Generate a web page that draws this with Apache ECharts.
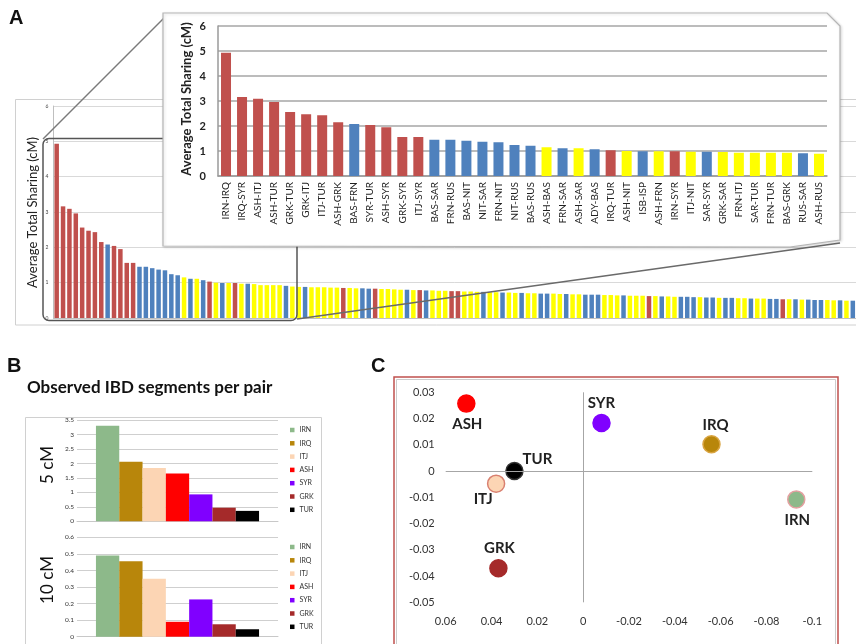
<!DOCTYPE html>
<html><head><meta charset="utf-8">
<script src="https://cdn.jsdelivr.net/npm/echarts@6/dist/echarts.min.js"></script>
<style>html,body{margin:0;padding:0;background:#fff}#c{width:856px;height:644px}</style>
</head><body><div id="c"></div>
<script>
// ---------- Panel A data ----------
const insetPairs = ['IRN-IRQ','IRQ-SYR','ASH-ITJ','ASH-TUR','GRK-TUR','GRK-ITJ','ITJ-TUR','ASH-GRK','BAS-FRN','SYR-TUR',
  'ASH-SYR','GRK-SYR','ITJ-SYR','BAS-SAR','FRN-RUS','BAS-NIT','NIT-SAR','FRN-NIT','NIT-RUS','BAS-RUS',
  'ASH-BAS','FRN-SAR','ASH-SAR','ADY-BAS','IRQ-TUR','ASH-NIT','ISB-ISP','ASH-FRN','IRN-SYR','ITJ-NIT',
  'SAR-SYR','GRK-SAR','FRN-ITJ','SAR-TUR','FRN-TUR','BAS-GRK','RUS-SAR','ASH-RUS'];
const insetValues = [4.93,3.16,3.09,2.96,2.56,2.47,2.43,2.15,2.08,2.04,
  1.95,1.56,1.56,1.45,1.45,1.41,1.37,1.35,1.24,1.21,
  1.15,1.11,1.11,1.07,1.03,1.00,0.99,0.99,0.99,0.97,
  0.97,0.96,0.93,0.93,0.93,0.93,0.91,0.89];
const insetGroups = ['r','r','r','r','r','r','r','r','b','r',
  'r','r','r','b','b','b','b','b','b','b',
  'y','b','y','b','r','y','b','y','r','y',
  'b','y','y','y','y','y','b','y'];
// remaining pairs of the full ranking (names not legible in the figure)
const tailValues = [0.88,0.88,0.87,0.87,0.87,0.86,0.86,0.85,0.85,0.84,
  0.84,0.83,0.83,0.82,0.82,0.81,0.80,0.80,0.79,0.79,
  0.78,0.78,0.77,0.77,0.76,0.76,0.75,0.75,0.74,0.74,
  0.73,0.73,0.72,0.72,0.71,0.71,0.70,0.70,0.69,0.69,
  0.69,0.68,0.68,0.67,0.67,0.66,0.66,0.66,0.65,0.65,
  0.64,0.64,0.63,0.63,0.63,0.62,0.62,0.61,0.61,0.60,
  0.60,0.60,0.59,0.59,0.58,0.58,0.57,0.57,0.57,0.56,
  0.56,0.55,0.55,0.55,0.54,0.54,0.53,0.53,0.53,0.52,
  0.52,0.51,0.51,0.51,0.50,0.50,0.49,0.49];
const tailGroups = ['y','b','y','y','y','y','y','r','y','y',
  'b','b','r','y','y','y','y','b','y','r',
  'b','y','y','y','r','r','y','y','y','b',
  'y','y','b','y','y','b','y','y','b','b',
  'y','y','b','y','y','b','b','b','y','y',
  'y','b','y','y','y','r','y','b','y','y',
  'b','b','b','y','b','b','y','b','b','y',
  'y','b','y','y','b','b','r','y','b','y',
  'b','b','b','y','y','b','y','b'];
const sharingTicks = [0,1,2,3,4,5,6];

// ---------- Panel B data ----------
const populations = ['IRN','IRQ','ITJ','ASH','SYR','GRK','TUR'];
const segments5cM  = [3.30,2.06,1.84,1.65,0.93,0.47,0.36];
const segments10cM = [0.49,0.455,0.35,0.09,0.225,0.075,0.045];

// ---------- Panel C data ----------
const pcaNames = ['ASH','SYR','IRQ','TUR','ITJ','IRN','GRK'];
const pcaX = [0.051,-0.008,-0.056,0.030,0.038,-0.093,0.037];
const pcaY = [0.0257,0.0183,0.0102,0.0,-0.0048,-0.0108,-0.037];

// ---------- styling ----------
const FONT = 'Lato, "Open Sans", sans-serif';
const groupColor = {r:'#C0504D', b:'#4F81BD', y:'#FFFF00'};
const popColor = {IRN:'#8DB98A', IRQ:'#B8860B', ITJ:'#FCD5B4', ASH:'#FF0000', SYR:'#8000FF', GRK:'#A52A2A', TUR:'#000000'};
const popBorder = {IRN:'#E3A0A0', IRQ:'#D9A441', ITJ:'#D98070', ASH:'#FF0000', SYR:'#8000FF', GRK:'#A52A2A', TUR:'#333333'};
const pcaLabelOffset = {ASH:[1,21], SYR:[0,-20], IRQ:[4,-19], TUR:[23,-12], ITJ:[-13,16], IRN:[1,21], GRK:[1,-20]};

const mainValues = insetValues.concat(tailValues);
const mainGroups = insetGroups.concat(tailGroups);
const mainCats = mainValues.map((v,i)=>String(i+1));

const chart = echarts.init(document.getElementById('c'), null, {renderer:'canvas'});

const bSeries = [];
populations.forEach((p,i)=>{
  bSeries.push({type:'bar', name:p, xAxisIndex:2, yAxisIndex:2, data:[segments5cM[i]], barWidth:23.3, barGap:'0%',
    itemStyle:{color:popColor[p]}, silent:true});
});
populations.forEach((p,i)=>{
  bSeries.push({type:'bar', name:p, xAxisIndex:3, yAxisIndex:3, data:[segments10cM[i]], barWidth:23.3, barGap:'0%',
    itemStyle:{color:popColor[p]}, silent:true});
});

const cSeries = pcaNames.map((p,i)=>({
  type:'scatter', name:'pca-'+p, xAxisIndex:4, yAxisIndex:4,
  data:[[pcaX[i], pcaY[i]]], symbolSize:17, z:4,
  itemStyle:{color:popColor[p], borderColor:popBorder[p], borderWidth:1.5, opacity:1},
  label:{show:true, position:'inside', offset:pcaLabelOffset[p], formatter:p,
    fontFamily:FONT, fontWeight:'bold', fontSize:15, color:'#222'}
}));
cSeries[0].markLine = {silent:true, symbol:'none', label:{show:false},
  lineStyle:{color:'#a6a6a6', width:1, type:'solid'}, data:[{xAxis:0},{yAxis:0}]};

const legendBase = {orient:'vertical', left:290, itemWidth:4.5, itemHeight:4.5, itemGap:5.3, icon:'rect',
  padding:0, selectedMode:false, data:populations,
  textStyle:{fontSize:7, color:'#333', fontFamily:FONT, lineHeight:8}};

const option = {
  animation:false,
  backgroundColor:'#fff',
  textStyle:{fontFamily:FONT},
  legend:[Object.assign({}, legendBase, {top:426}), Object.assign({}, legendBase, {top:543})],
  grid:[
    {left:53.5, top:106, width:807.7, height:212},
    {left:218, top:26, width:609, height:150, z:5},
    {left:77, top:420, width:201, height:101.3},
    {left:77, top:537.3, width:201, height:99.4},
    {left:445.7, top:392.3, width:366.6, height:210}
  ],
  xAxis:[
    {gridIndex:0, type:'category', data:mainCats, axisLabel:{show:false}, axisTick:{show:false},
      axisLine:{lineStyle:{color:'#bfbfbf'}}},
    {gridIndex:1, type:'category', data:insetPairs, z:5, axisTick:{show:false},
      axisLine:{lineStyle:{color:'#9a9a9a', width:1.5}},
      axisLabel:{interval:0, rotate:90, fontSize:10, margin:6, color:'#222', fontFamily:FONT}},
    {gridIndex:2, type:'category', data:['5 cM'], axisLabel:{show:false}, axisTick:{show:false},
      axisLine:{lineStyle:{color:'#c8c8c8'}}},
    {gridIndex:3, type:'category', data:['10 cM'], axisLabel:{show:false}, axisTick:{show:false},
      axisLine:{lineStyle:{color:'#c8c8c8'}}},
    {gridIndex:4, type:'value', min:-0.1, max:0.06, interval:0.02, inverse:true,
      axisLine:{show:false}, axisTick:{show:false}, splitLine:{show:false},
      axisLabel:{fontSize:11, margin:14, color:'#333', fontFamily:FONT}}
  ],
  yAxis:[
    {gridIndex:0, type:'value', min:0, max:6, interval:1,
      axisLine:{show:true, lineStyle:{color:'#bfbfbf'}}, axisTick:{show:false},
      splitLine:{lineStyle:{color:'#d9d9d9'}},
      axisLabel:{fontSize:5, margin:5, color:'#444', fontFamily:FONT}},
    {gridIndex:1, type:'value', min:0, max:6, interval:1, z:5,
      axisLine:{show:true, lineStyle:{color:'#9a9a9a', width:1.5}}, axisTick:{show:false},
      splitLine:{lineStyle:{color:'#a6a6a6', width:1.5}},
      axisLabel:{fontSize:11, fontWeight:'bold', margin:12, color:'#222', fontFamily:FONT}},
    {gridIndex:2, type:'value', min:0, max:3.5, interval:0.5,
      axisLine:{show:false}, axisTick:{show:false}, splitLine:{lineStyle:{color:'#cfcfcf'}},
      axisLabel:{fontSize:6.5, margin:3, color:'#333', fontFamily:FONT}},
    {gridIndex:3, type:'value', min:0, max:0.6, interval:0.1,
      axisLine:{show:false}, axisTick:{show:false}, splitLine:{lineStyle:{color:'#cfcfcf'}},
      axisLabel:{fontSize:6.5, margin:3, color:'#333', fontFamily:FONT}},
    {gridIndex:4, type:'value', min:-0.05, max:0.03, interval:0.01,
      axisLine:{show:false}, axisTick:{show:false}, splitLine:{show:false},
      axisLabel:{fontSize:11, margin:11, color:'#333', fontFamily:FONT}}
  ],
  series:[
    {type:'bar', xAxisIndex:0, yAxisIndex:0, data:mainValues, barWidth:4.5, z:2, silent:true,
      itemStyle:{color:p=>groupColor[mainGroups[p.dataIndex]]}},
    {type:'bar', xAxisIndex:1, yAxisIndex:1, data:insetValues, barWidth:10, z:6, silent:true,
      itemStyle:{color:p=>groupColor[insetGroups[p.dataIndex]]}}
  ].concat(bSeries, cSeries),
  graphic:[
    // panel letters
    {type:'text', left:9, top:8, z:10, style:{text:'A', font:'bold 20px "Liberation Sans", Arial, sans-serif', fill:'#111'}},
    {type:'text', left:7, top:356, z:10, style:{text:'B', font:'bold 20px "Liberation Sans", Arial, sans-serif', fill:'#111'}},
    {type:'text', left:371, top:356, z:10, style:{text:'C', font:'bold 20px "Liberation Sans", Arial, sans-serif', fill:'#111'}},
    // panel A frames
    {type:'rect', z:0, silent:true, shape:{x:15.5, y:99.5, width:860, height:225.5}, style:{fill:null, stroke:'#d0d0d0', lineWidth:1}},
    {type:'text', z:3, x:33, y:212.5, rotation:Math.PI/2,
      style:{text:'Average Total Sharing (cM)', font:'13px '+FONT, fill:'#222', textAlign:'center', textVerticalAlign:'middle', align:'center', verticalAlign:'middle'}},
    {type:'rect', z:3, silent:true, shape:{x:43, y:138.5, width:254, height:182, r:6}, style:{fill:null, stroke:'#555', lineWidth:1.5}},
    {type:'line', z:3, silent:true, shape:{x1:43, y1:139, x2:164, y2:18}, style:{stroke:'#7a7a7a', lineWidth:1.5}},
    {type:'line', z:3, silent:true, shape:{x1:297, y1:319, x2:840, y2:243}, style:{stroke:'#6a6a6a', lineWidth:1.5}},
    {type:'polygon', z:4, silent:true, shape:{points:[[163,13],[827,13],[840,26],[840,240],[790,247],[163,246]]},
      style:{fill:'#fff', stroke:'#b5b5b5', lineWidth:1.2, shadowBlur:3, shadowColor:'rgba(0,0,0,0.15)', shadowOffsetX:1, shadowOffsetY:1}},
    {type:'text', z:7, x:186.5, y:99, rotation:Math.PI/2,
      style:{text:'Average Total Sharing (cM)', font:'bold 13px '+FONT, fill:'#222', textAlign:'center', textVerticalAlign:'middle', align:'center', verticalAlign:'middle'}},
    // panel B
    {type:'text', left:27, top:379, z:3, style:{text:'Observed IBD segments per pair', font:'bold 17px '+FONT, fill:'#111'}},
    {type:'rect', z:0, silent:true, shape:{x:25.5, y:417.5, width:296, height:240}, style:{fill:null, stroke:'#d0d0d0', lineWidth:1}},
    {type:'text', z:3, x:47.5, y:465, rotation:Math.PI/2,
      style:{text:'5 cM', font:'17px '+FONT, fill:'#111', textAlign:'center', textVerticalAlign:'middle', align:'center', verticalAlign:'middle'}},
    {type:'text', z:3, x:47.5, y:580, rotation:Math.PI/2,
      style:{text:'10 cM', font:'17px '+FONT, fill:'#111', textAlign:'center', textVerticalAlign:'middle', align:'center', verticalAlign:'middle'}},
    // panel C frame
    {type:'rect', z:0, silent:true, shape:{x:394, y:377, width:444, height:290}, style:{fill:null, stroke:'#C0504D', lineWidth:1.5}},
    {type:'rect', z:0, silent:true, shape:{x:396.5, y:379.5, width:439, height:290}, style:{fill:null, stroke:'#cccccc', lineWidth:1}}
  ]
};
chart.setOption(option);
</script>
</body></html>
